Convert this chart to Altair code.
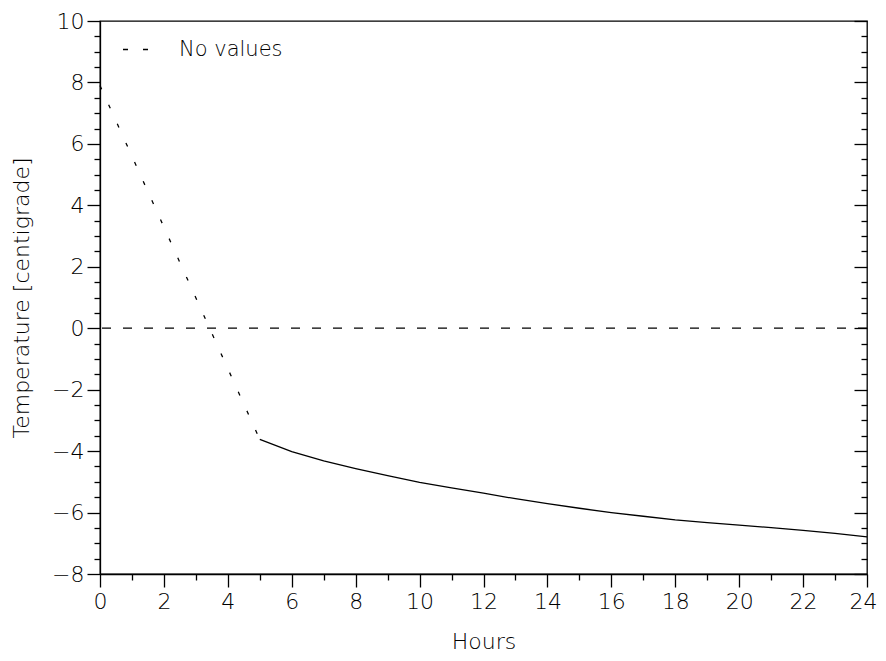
import altair as alt
import pandas as pd

# ---- data ----
dotted_hours = [0, 5]
dotted_temp = [7.9, -3.62]

solid_hours = [5, 6, 7, 8, 9, 10, 11, 12, 13, 14, 15, 16, 17, 18, 19, 20, 21, 22, 23, 24]
solid_temp = [-3.62, -4.02, -4.32, -4.57, -4.80, -5.02, -5.20, -5.37, -5.55, -5.71,
              -5.86, -6.00, -6.12, -6.24, -6.33, -6.41, -6.49, -6.58, -6.68, -6.79]

zero_level = [0]
legend_label = ["No values"]

x_major = [0, 2, 4, 6, 8, 10, 12, 14, 16, 18, 20, 22, 24]
x_minor = [1, 3, 5, 7, 9, 11, 13, 15, 17, 19, 21, 23]
y_major = [-8, -6, -4, -2, 0, 2, 4, 6, 8, 10]
y_minor = [-7.5, -7, -6.5, -5.5, -5, -4.5, -3.5, -3, -2.5, -1.5, -1, -0.5,
           0.5, 1, 1.5, 2.5, 3, 3.5, 4.5, 5, 5.5, 6.5, 7, 7.5, 8.5, 9, 9.5]

FONT = "DejaVu Sans"
W, H = 767, 553

solid_df = pd.DataFrame({"h": solid_hours, "t": solid_temp})
dotted_df = pd.DataFrame({"h": dotted_hours, "t": dotted_temp})
zero_df = pd.DataFrame({"t": zero_level, "label": legend_label})

xs = alt.Scale(domain=[0, 24], nice=False, zero=False)
ys = alt.Scale(domain=[-8, 10], nice=False, zero=False)

# layer 1: solid curve, major axes
solid = alt.Chart(solid_df).mark_line(color="black", strokeWidth=1.3).encode(
    x=alt.X("h:Q", scale=xs, title="Hours",
            axis=alt.Axis(values=x_major, tickSize=13, labelPadding=4,
                          labelFontSize=22, titleFontSize=22, titlePadding=19,
                          labelFlush=False, labelOverlap=False, format="d",
                          labelOffset={"condition": {"test": "datum.value == 24",
                                                     "value": -4},
                                       "value": 0})),
    y=alt.Y("t:Q", scale=ys, title="Temperature [centigrade]",
            axis=alt.Axis(values=y_major, tickSize=13, labelPadding=3,
                          labelFontSize=22, titleFontSize=22, titlePadding=18,
                          labelFlush=False, labelOverlap=False, format="d")),
)

# layer 2: dotted segment, minor outward ticks
dotted = alt.Chart(dotted_df).mark_line(color="black", strokeWidth=1.3,
                                         strokeDash=[4, 17]).encode(
    x=alt.X("h:Q", scale=xs, title=None,
            axis=alt.Axis(orient="bottom", values=x_minor, tickSize=6,
                          labels=False, domain=False)),
    y=alt.Y("t:Q", scale=ys, title=None,
            axis=alt.Axis(orient="left", values=y_minor, tickSize=6,
                          labels=False, domain=False)),
)

# layer 3: dashed zero line + legend, right-side inward major ticks
zero = alt.Chart(zero_df).mark_rule(strokeWidth=1.3, strokeDash=[9, 12]).encode(
    y=alt.Y("t:Q", scale=ys, title=None,
            axis=alt.Axis(orient="left", offset=-W, values=y_major, tickSize=13,
                          labels=False, domain=False)),
    color=alt.Color("label:N", scale=alt.Scale(range=["black"]),
                    legend=alt.Legend(title=None, orient="none", legendX=22, legendY=15,
                                      symbolType="stroke", symbolDash=[5, 15],
                                      symbolSize=625, symbolStrokeWidth=1.3,
                                      labelFont=FONT, labelFontSize=21,
                                      labelFontWeight=200, labelOffset=30,
                                      labelColor="black", padding=0)),
)

# layer 4: invisible helper carrying right-side inward minor ticks
zero_minor = alt.Chart(zero_df).mark_rule(opacity=0).encode(
    y=alt.Y("t:Q", scale=ys, title=None,
            axis=alt.Axis(orient="left", offset=-W, values=y_minor, tickSize=6,
                          labels=False, domain=False)),
)

chart = alt.layer(solid, dotted, zero, zero_minor).resolve_axis(
    x="independent", y="independent"
).properties(
    width=W, height=H,
    autosize=alt.AutoSizeParams(type="none"),
    padding={"left": 92, "top": 13, "right": 11, "bottom": 79},
).configure_view(
    stroke="black", strokeWidth=1.3
).configure_axis(
    grid=False, domainColor="black", tickColor="black", labelColor="black",
    titleColor="black", labelFont=FONT, titleFont=FONT, labelFontWeight=200,
    titleFontWeight=200, domainWidth=1.3, tickWidth=1.3,
)

chart.save("out.html", embed_options={"renderer": "svg", "actions": False})
